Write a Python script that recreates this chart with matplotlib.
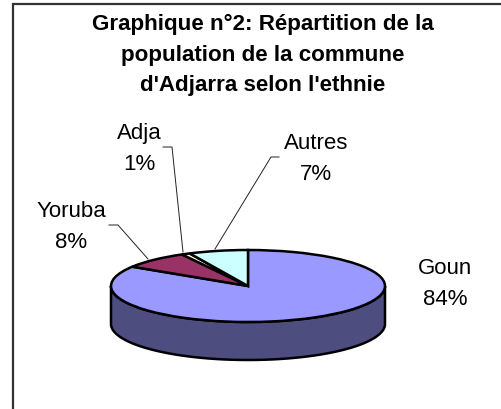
# Graphique n°2 : camembert 3D façon Excel
import numpy as np
import matplotlib
matplotlib.use("Agg")
from matplotlib import pyplot as plt
from matplotlib.patches import Polygon

plt.rcParams['font.family'] = ['Liberation Sans', 'DejaVu Sans']

W, H = 501, 410

title_lines = ["Graphique n°2: Répartition de la",
               "population de la commune",
               "d'Adjarra selon l'ethnie"]
ethnies = ["Goun", "Yoruba", "Adja", "Autres"]
valeurs = [84, 8, 1, 7]
couleurs = ["#9999FF", "#993366", "#FFFFCC", "#CCFFFF"]
couleur_cote = "#4D4D80"

# position du centre de chaque étiquette (pixels)
pos_labels = [(445, 284), (71.5, 227), (139, 149), (316, 159)]
# traits de rappel (pixels)
rappels = [[(109, 226), (118, 226), (148, 260)],
           [(163, 148), (172, 148), (183, 253)],
           [(279, 158), (271, 158), (215, 250)]]

fig = plt.figure(figsize=(W / 100, H / 100), dpi=100)

# fond en coordonnées pixels : cadre, titre, étiquettes
bg = fig.add_axes([0, 0, 1, 1])
bg.set_xlim(0, W)
bg.set_ylim(H, 0)
bg.axis("off")
bg.plot([13, 13, W], [H, 5, 5], color="#333333", lw=1.6, solid_joinstyle="miter")

for y, ligne in zip([24, 55, 86], title_lines):
    bg.text(263, y, ligne, ha="center", va="center", fontsize=16.1, fontweight="bold", color="black")

for nom, val, (x, y) in zip(ethnies, valeurs, pos_labels):
    bg.text(x, y, "%s\n%d%%" % (nom, val), ha="center", va="center", fontsize=16,
            linespacing=1.66, color="black")

for r in rappels:
    xs, ys = zip(*r)
    bg.plot(xs, ys, color="#222222", lw=0.7)

# camembert : ellipse du dessus rx=137, ry=36, épaisseur 38 px
cx, cy, rx, ry, ep = 248, 287, 137, 36, 38
prof = ep / ry
ax = fig.add_axes([(cx - rx) / W, 1 - (cy + ry + ep) / H, 2 * rx / W, (2 * ry + ep) / H])
ax.patch.set_alpha(0)
ax.pie(valeurs, colors=couleurs, startangle=90, counterclock=False,
       wedgeprops=dict(edgecolor="black", linewidth=1.8, clip_on=False))
ax.set_aspect("auto")
ax.set_xlim(-1, 1)
ax.set_ylim(-1 - prof, 1)

# côté du cylindre
t = np.linspace(np.pi, 2 * np.pi, 200)
bas = np.column_stack([np.cos(t), np.sin(t) - prof])
haut = np.column_stack([np.cos(t[::-1]), np.sin(t[::-1])])
ax.add_patch(Polygon(np.vstack([bas, haut]), closed=True, facecolor=couleur_cote,
                     edgecolor="black", linewidth=1.8, zorder=0.5, clip_on=False))

fig.savefig("out.png", dpi=100)
